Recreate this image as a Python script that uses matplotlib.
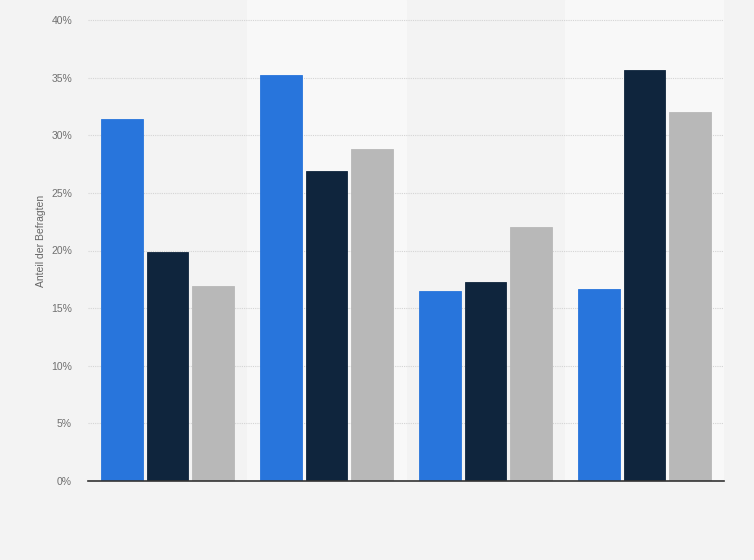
import numpy as np
import matplotlib
matplotlib.use("Agg")
import matplotlib.pyplot as plt

plt.rcParams["font.family"] = ["Liberation Sans", "DejaVu Sans"]

groups = ["1", "2", "3", "4"]
serie_a = [31.4, 35.2, 16.5, 16.7]
serie_b = [19.9, 26.9, 17.3, 35.7]
serie_c = [16.9, 28.8, 22.0, 32.0]
farben = ["#2875dc", "#0f253d", "#b8b8b8"]
yticks = [0, 5, 10, 15, 20, 25, 30, 35, 40]

fig = plt.figure(figsize=(7.54, 5.6), dpi=100)
fig.patch.set_facecolor("#f3f3f3")
ax = fig.add_axes([88 / 754, 79 / 560, 636 / 754, 481 / 560])
ax.set_facecolor("#f3f3f3")

x = np.arange(len(groups))
breite = 0.264
schritt = 0.289

# helle Streifen hinter jeder zweiten Gruppe
for i in x:
    if i % 2 == 1:
        ax.axvspan(i - 0.5, i + 0.5, color="#f8f8f8", zorder=0)

for k, werte in enumerate([serie_a, serie_b, serie_c]):
    ax.bar(x + (k - 1) * schritt, werte, width=breite, color=farben[k],
           edgecolor=farben[k], linewidth=0.6, zorder=3)

ax.set_xlim(-0.5, len(groups) - 0.5)
ax.set_ylim(0, 481 / 11.525)
ax.set_yticks(yticks)
ax.set_yticklabels([f"{t}%" for t in yticks])
ax.set_xticks([])
ax.grid(axis="y", color="#d4d4d4", linestyle=(0, (1, 1)), linewidth=0.8, zorder=1)
ax.set_axisbelow(True)

for s in ["top", "right", "left"]:
    ax.spines[s].set_visible(False)
ax.spines["bottom"].set_color("#333333")
ax.spines["bottom"].set_linewidth(1.2)
ax.spines["bottom"].set_zorder(4)

ax.tick_params(axis="y", length=0, pad=11.5, labelsize=7.5, labelcolor="#707070")
ax.set_ylabel("Anteil der Befragten", fontsize=7.5, color="#666666", labelpad=3.5)

fig.savefig("out.png", dpi=100, facecolor=fig.get_facecolor())
